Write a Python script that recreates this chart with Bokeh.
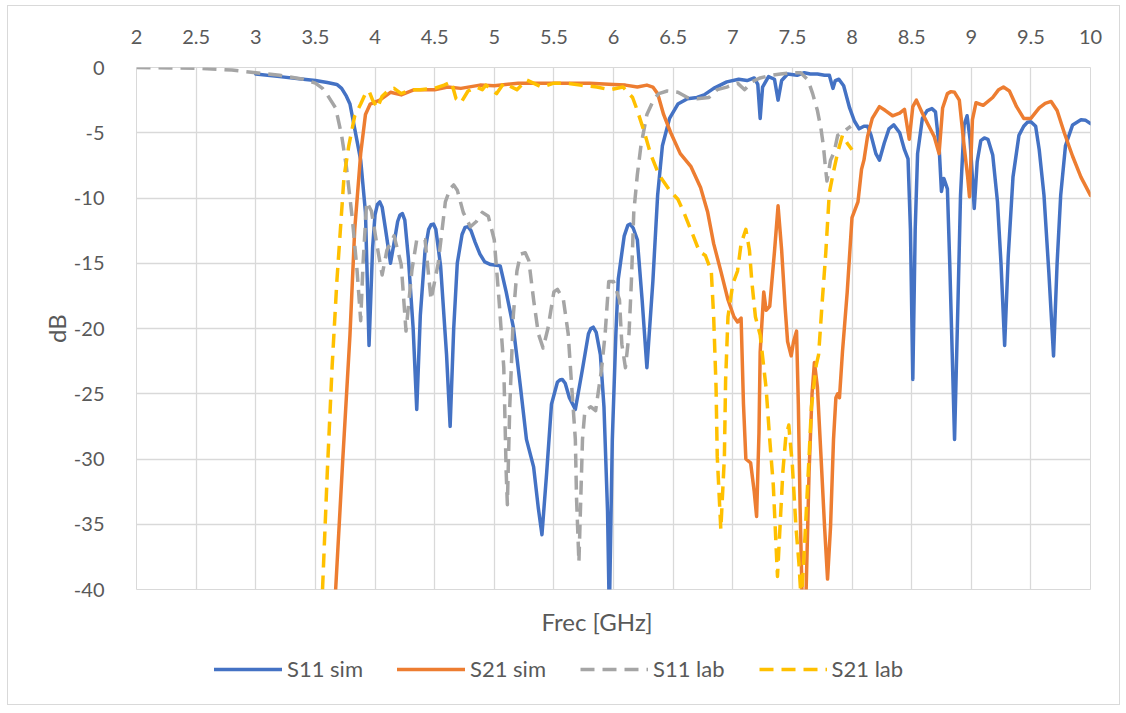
from bokeh.plotting import figure
from bokeh.layouts import column
from bokeh.models import (FixedTicker, LinearAxis, Range1d, Legend, LegendItem, Title)
from bokeh.embed import file_html
from bokeh.resources import INLINE

# ---------------- data ----------------
x_ticks = [2, 2.5, 3, 3.5, 4, 4.5, 5, 5.5, 6, 6.5, 7, 7.5, 8, 8.5, 9, 9.5, 10]
x_tick_labels = ["2", "2.5", "3", "3.5", "4", "4.5", "5", "5.5", "6", "6.5",
                 "7", "7.5", "8", "8.5", "9", "9.5", "10"]
y_ticks = [0, -5, -10, -15, -20, -25, -30, -35, -40]
y_tick_labels = ["0", "-5", "-10", "-15", "-20", "-25", "-30", "-35", "-40"]

series_names = ["S11 sim", "S21 sim", "S11 lab", "S21 lab"]

s11_sim_f = [3.0, 3.2, 3.4, 3.5, 3.6, 3.68, 3.72, 3.76, 3.79, 3.83, 3.88, 3.92, 3.95, 3.98,
             4.0, 4.02, 4.04, 4.06, 4.09, 4.13, 4.17, 4.19, 4.21, 4.23, 4.25, 4.28, 4.32,
             4.35, 4.38, 4.42, 4.45, 4.47, 4.49, 4.51, 4.55, 4.6, 4.63, 4.66, 4.69, 4.73,
             4.755, 4.78, 4.805, 4.84, 4.88, 4.92, 4.97, 5.05, 5.1, 5.16, 5.22, 5.27, 5.33,
             5.37, 5.4, 5.44, 5.48, 5.53, 5.55, 5.57, 5.595, 5.63, 5.68, 5.74, 5.79, 5.81,
             5.83, 5.855, 5.89, 5.92, 5.95, 5.965, 5.99, 6.02, 6.04, 6.09, 6.12, 6.14, 6.165,
             6.2, 6.24, 6.28, 6.33, 6.37, 6.41, 6.47, 6.54, 6.62, 6.7, 6.76, 6.84, 6.95,
             7.05, 7.12, 7.18, 7.21, 7.23, 7.25, 7.3, 7.35, 7.38, 7.41, 7.46, 7.54, 7.6,
             7.65, 7.71, 7.77, 7.81, 7.84, 7.86, 7.89, 7.93, 7.98, 8.02, 8.06, 8.1, 8.13,
             8.16, 8.2, 8.23, 8.27, 8.31, 8.35, 8.4, 8.44, 8.47, 8.49, 8.51, 8.53, 8.55,
             8.59, 8.63, 8.67, 8.7, 8.73, 8.75, 8.77, 8.8, 8.82, 8.84, 8.86, 8.89, 8.91,
             8.94, 8.965, 8.99, 9.01, 9.025, 9.05, 9.08, 9.11, 9.14, 9.18, 9.22, 9.25,
             9.28, 9.31, 9.35, 9.4, 9.44, 9.47, 9.5, 9.54, 9.57, 9.61, 9.65, 9.69, 9.72,
             9.75, 9.79, 9.85, 9.92, 9.96, 10.0]
s11_sim_db = [-0.5, -0.7, -0.9, -1.0, -1.15, -1.3, -1.6, -2.2, -2.8, -4.7, -7.1, -11.1, -21.3,
              -13.8, -11.3, -10.5, -10.3, -10.7, -12.5, -15.0, -12.9, -11.8, -11.3, -11.2,
              -11.7, -14.6, -20.0, -26.2, -19.0, -14.0, -12.4, -12.05, -12.0, -12.4, -15.2,
              -22.0, -27.5, -20.0, -15.0, -12.8, -12.25, -12.2, -12.5, -13.4, -14.3, -14.9,
              -15.1, -15.2, -17.2, -19.9, -24.5, -28.5, -30.6, -33.8, -35.8, -31.0, -25.8,
              -24.1, -23.95, -23.9, -24.2, -25.3, -26.2, -23.1, -20.4, -20.0, -19.9, -20.3,
              -22.0, -26.0, -34.0, -42.0, -28.5, -20.4, -16.2, -12.9, -12.1, -12.0, -12.3,
              -13.2, -17.8, -23.0, -16.4, -9.8, -6.0, -3.9, -2.8, -2.4, -2.3, -2.1, -1.6,
              -1.1, -0.9, -1.0, -0.8, -1.3, -3.9, -1.5, -0.7, -0.9, -2.5, -1.0, -0.5, -0.6,
              -0.4, -0.5, -0.5, -0.6, -0.6, -1.6, -1.0, -0.9, -1.4, -3.1, -4.1, -4.7, -4.5,
              -4.5, -5.2, -6.6, -7.1, -5.8, -4.7, -4.4, -5.0, -6.3, -7.0, -12.4, -23.9,
              -12.4, -6.6, -3.9, -3.3, -3.15, -3.4, -6.0, -9.5, -8.5, -9.3, -15.1, -21.8,
              -28.5, -17.5, -9.8, -4.4, -3.7, -5.5, -8.5, -10.8, -7.2, -5.6, -5.4, -5.5,
              -6.7, -10.3, -15.1, -21.3, -14.5, -8.4, -5.2, -4.5, -4.2, -4.15, -4.5, -6.3,
              -9.8, -15.6, -22.1, -15.0, -9.8, -6.0, -4.4, -4.0, -4.05, -4.3]

s21_sim_f = [3.67, 3.73, 3.79, 3.83, 3.88, 3.92, 3.96, 4.04, 4.13, 4.22, 4.33, 4.5, 4.61,
             4.72, 4.88, 5.0, 5.2, 5.5, 5.8, 6.0, 6.1, 6.2, 6.28, 6.33, 6.37, 6.42, 6.48,
             6.56, 6.65, 6.73, 6.79, 6.84, 6.9, 6.96, 7.01, 7.04, 7.07, 7.09, 7.11, 7.15,
             7.18, 7.2, 7.22, 7.23, 7.26, 7.28, 7.31, 7.35, 7.38, 7.41, 7.44, 7.46, 7.49,
             7.51, 7.535, 7.55, 7.565, 7.585, 7.61, 7.64, 7.665, 7.685, 7.71, 7.74, 7.77,
             7.795, 7.82, 7.845, 7.865, 7.88, 7.895, 7.92, 7.96, 8.0, 8.05, 8.08, 8.1,
             8.13, 8.17, 8.23, 8.28, 8.34, 8.4, 8.44, 8.48, 8.51, 8.54, 8.59, 8.64, 8.69,
             8.73, 8.76, 8.8, 8.83, 8.86, 8.9, 8.94, 8.97, 8.985, 9.01, 9.04, 9.1, 9.18,
             9.23, 9.27, 9.32, 9.38, 9.44, 9.5, 9.57, 9.62, 9.67, 9.72, 9.78, 9.85, 9.92,
             10.0]
s21_sim_db = [-40.0, -30.0, -20.5, -12.4, -6.6, -3.6, -2.8, -2.5, -1.9, -2.1, -1.7, -1.7,
              -1.5, -1.6, -1.35, -1.4, -1.2, -1.2, -1.2, -1.3, -1.35, -1.5, -1.35, -1.5,
              -2.0, -3.6, -5.0, -6.6, -7.6, -9.2, -11.1, -13.5, -15.6, -17.8, -19.1, -19.5,
              -19.2, -25.8, -30.0, -30.3, -32.5, -34.4, -28.0, -21.8, -17.2, -18.6, -18.3,
              -14.1, -10.6, -14.0, -18.5, -21.0, -22.1, -21.0, -20.2, -25.8, -33.8, -42.0,
              -42.0, -31.0, -25.0, -22.6, -24.5, -29.8, -35.2, -39.2, -35.2, -28.5, -25.3,
              -25.0, -25.3, -21.8, -17.2, -11.5, -10.3, -7.8, -7.1, -5.3, -3.9, -3.0, -3.3,
              -3.7, -3.5, -3.2, -5.5, -3.0, -2.5, -3.5, -4.4, -5.3, -6.6, -3.1, -2.0, -1.85,
              -1.9, -2.5, -6.0, -8.4, -9.9, -4.0, -2.7, -2.9, -2.3, -1.7, -1.5, -1.8, -3.0,
              -3.9, -3.9, -3.1, -2.75, -2.6, -3.3, -5.0, -6.8, -8.4, -9.8]

s11_lab_f = [2.0, 2.5, 2.8, 3.0, 3.2, 3.4, 3.5, 3.56, 3.6, 3.67, 3.72, 3.76, 3.81, 3.85,
             3.88, 3.9, 3.93, 3.97, 4.02, 4.06, 4.1, 4.16, 4.22, 4.26, 4.31, 4.35, 4.42,
             4.47, 4.53, 4.59, 4.63, 4.66, 4.69, 4.74, 4.8, 4.85, 4.9, 4.95, 5.0, 5.04,
             5.08, 5.1, 5.11, 5.13, 5.16, 5.19, 5.22, 5.26, 5.29, 5.33, 5.37, 5.41, 5.45,
             5.5, 5.53, 5.58, 5.62, 5.65, 5.68, 5.69, 5.71, 5.74, 5.76, 5.81, 5.85, 5.9,
             5.93, 5.96, 6.0, 6.05, 6.07, 6.1, 6.13, 6.15, 6.17, 6.2, 6.23, 6.28, 6.34,
             6.38, 6.45, 6.54, 6.62, 6.7, 6.8, 6.87, 6.95, 7.04, 7.1, 7.16, 7.23, 7.32, 7.4,
             7.49, 7.57, 7.63, 7.67, 7.71, 7.74, 7.76, 7.78, 7.79, 7.82, 7.85, 7.88, 7.92,
             7.96, 7.99]
s11_lab_db = [0.0, -0.05, -0.2, -0.4, -0.6, -0.9, -1.2, -1.6, -2.1, -3.1, -5.2, -7.6, -11.6,
              -15.6, -19.4, -15.0, -10.3, -11.0, -13.8, -15.9, -14.0, -12.9, -15.1, -20.2,
              -15.5, -13.2, -13.2, -17.8, -15.0, -10.3, -9.3, -9.0, -9.4, -11.1, -12.2,
              -11.8, -11.1, -11.4, -13.2, -17.8, -23.0, -31.0, -33.5, -26.0, -19.0, -15.6,
              -14.3, -14.2, -14.8, -17.8, -20.4, -21.5, -20.0, -17.2, -17.0, -17.8, -20.4,
              -24.5, -28.5, -33.0, -37.9, -28.5, -26.3, -26.0, -26.3, -23.1, -20.4, -16.4,
              -16.4, -17.8, -21.2, -23.0, -20.4, -16.4, -11.1, -8.2, -6.0, -3.6, -2.4, -2.0,
              -1.8, -1.9, -2.3, -2.4, -2.3, -1.7, -1.5, -1.2, -1.7, -1.1, -0.8, -0.6, -0.5,
              -0.4, -0.4, -0.95, -2.0, -3.3, -4.7, -6.0, -7.9, -8.7, -7.1, -6.5, -5.2, -5.0,
              -4.7, -4.5]

s21_lab_f = [3.56, 3.6, 3.64, 3.68, 3.71, 3.74, 3.78, 3.83, 3.88, 3.92, 3.95, 3.98, 4.02,
             4.06, 4.12, 4.16, 4.22, 4.3, 4.38, 4.5, 4.58, 4.64, 4.68, 4.72, 4.78, 4.85,
             4.9, 4.93, 5.02, 5.08, 5.19, 5.27, 5.4, 5.5, 5.61, 5.72, 5.86, 5.97, 6.08,
             6.16, 6.2, 6.26, 6.31, 6.38, 6.47, 6.54, 6.59, 6.66, 6.72, 6.77, 6.82, 6.84,
             6.86, 6.87, 6.9, 6.93, 6.94, 6.96, 7.0, 7.04, 7.07, 7.11, 7.14, 7.16, 7.19,
             7.23, 7.28, 7.31, 7.34, 7.36, 7.375, 7.42, 7.445, 7.47, 7.5, 7.53, 7.555,
             7.575, 7.6, 7.64, 7.66, 7.7, 7.72, 7.75, 7.78, 7.81, 7.84, 7.88, 7.92, 7.96,
             8.0]
s21_lab_db = [-40.0, -31.0, -23.0, -16.4, -12.4, -8.4, -6.0, -3.7, -2.8, -2.0, -1.8, -2.5,
              -3.1, -2.2, -1.7, -1.6, -2.0, -1.7, -1.7, -1.6, -1.35, -1.1, -2.4, -2.7,
              -1.8, -1.5, -1.7, -1.35, -2.0, -1.2, -1.7, -0.95, -1.5, -1.2, -1.2, -1.35,
              -1.5, -1.7, -1.5, -2.3, -3.3, -5.0, -6.6, -8.2, -9.4, -10.1, -11.1, -12.7,
              -14.1, -14.4, -15.6, -19.1, -24.5, -29.8, -35.4, -29.8, -24.0, -19.1, -16.6,
              -15.6, -13.5, -12.4, -14.0, -16.4, -19.1, -20.5, -24.6, -28.5, -32.0, -36.0,
              -39.0, -31.0, -28.3, -27.4, -30.5, -35.2, -38.0, -41.0, -37.0, -29.8, -26.0,
              -22.8, -22.0, -18.0, -14.2, -9.6, -8.2, -6.5, -5.2, -5.8, -6.3]

colors = ["#4472C4", "#ED7D31", "#A5A5A5", "#FFC000"]
dashes = ["solid", "solid", "14 8", "14 8"]
text_color = "#595959"
grid_color = "#D9D9D9"
font = "Lato"

W = 1111

# ---------------- main chart ----------------
p = figure(width=W, height=646, output_backend="svg", toolbar_location=None,
           x_range=Range1d(2, 10), y_range=Range1d(-40, 0),
           x_axis_location=None, y_axis_location="left",
           min_border_left=128, min_border_right=29, min_border_top=61, min_border_bottom=63,
           background_fill_color="white", border_fill_color="white",
           outline_line_color=grid_color)

xaxis = LinearAxis(ticker=FixedTicker(ticks=x_ticks),
                   major_label_overrides={t: l for t, l in zip(x_ticks, x_tick_labels)})
p.add_layout(xaxis, "above")
xaxis.axis_line_color = None
xaxis.major_tick_line_color = None
xaxis.minor_tick_line_color = None
xaxis.major_label_text_font = font
xaxis.major_label_text_font_size = "20px"
xaxis.major_label_text_color = text_color
xaxis.major_label_standoff = 18

yaxis = p.yaxis[0]
yaxis.ticker = FixedTicker(ticks=y_ticks)
yaxis.major_label_overrides = {t: l for t, l in zip(y_ticks, y_tick_labels)}
yaxis.axis_line_color = None
yaxis.major_tick_line_color = None
yaxis.minor_tick_line_color = None
yaxis.major_label_text_font = font
yaxis.major_label_text_font_size = "20px"
yaxis.major_label_text_color = text_color
yaxis.major_label_standoff = 26
yaxis.axis_label = "dB"
yaxis.axis_label_text_font = font
yaxis.axis_label_text_font_size = "24px"
yaxis.axis_label_text_font_style = "normal"
yaxis.axis_label_text_color = text_color
yaxis.axis_label_standoff = 0

p.xgrid.ticker = FixedTicker(ticks=x_ticks)
p.ygrid.ticker = FixedTicker(ticks=y_ticks)
p.xgrid.grid_line_color = grid_color
p.ygrid.grid_line_color = grid_color
p.xgrid.grid_line_width = 1.3
p.ygrid.grid_line_width = 1.3

data = [(s11_sim_f, s11_sim_db), (s21_sim_f, s21_sim_db),
        (s11_lab_f, s11_lab_db), (s21_lab_f, s21_lab_db)]
for (xs, ys), c, d in zip(data, colors, dashes):
    p.line(xs, ys, line_color=c, line_width=3.5, line_dash=d,
           line_join="round", line_cap="round" if d == "solid" else "butt")

xtitle = Title(text="Frec [GHz]", align="left", offset=405, vertical_align="middle",
               text_font=font, text_font_size="24px", text_font_style="normal",
               text_color=text_color, standoff=32)
p.add_layout(xtitle, "below")

# ---------------- legend strip ----------------
q = figure(width=W, height=52, output_backend="svg", toolbar_location=None,
           x_range=Range1d(100, 101), y_range=Range1d(100, 101),
           x_axis_location=None, y_axis_location=None,
           min_border=0, outline_line_color=None,
           background_fill_color="white", border_fill_color="white")
q.xgrid.visible = False
q.ygrid.visible = False
legend_renderers = []
for (xs, ys), c, d in zip(data, colors, dashes):
    # same series, drawn outside this strip's ranges: only their legend glyphs show
    legend_renderers.append(q.line(xs, ys, line_color=c, line_width=3.5, line_dash=d,
                                   line_cap="round" if d == "solid" else "butt"))
legend = Legend(items=[LegendItem(label=n, renderers=[r])
                       for n, r in zip(series_names, legend_renderers)],
                orientation="horizontal", location=(78, 22),
                glyph_width=68, glyph_height=20, label_standoff=5, spacing=34,
                padding=0, margin=0, border_line_color=None, background_fill_alpha=0,
                label_text_font=font, label_text_font_size="22px", label_text_color=text_color)
q.add_layout(legend, "center")

layout = column(p, q, spacing=0,
                styles={"margin-left": "7px", "margin-top": "5px",
                        "border": "1px solid #D9D9D9"})

open("out.html", "w").write(file_html(layout, INLINE))
